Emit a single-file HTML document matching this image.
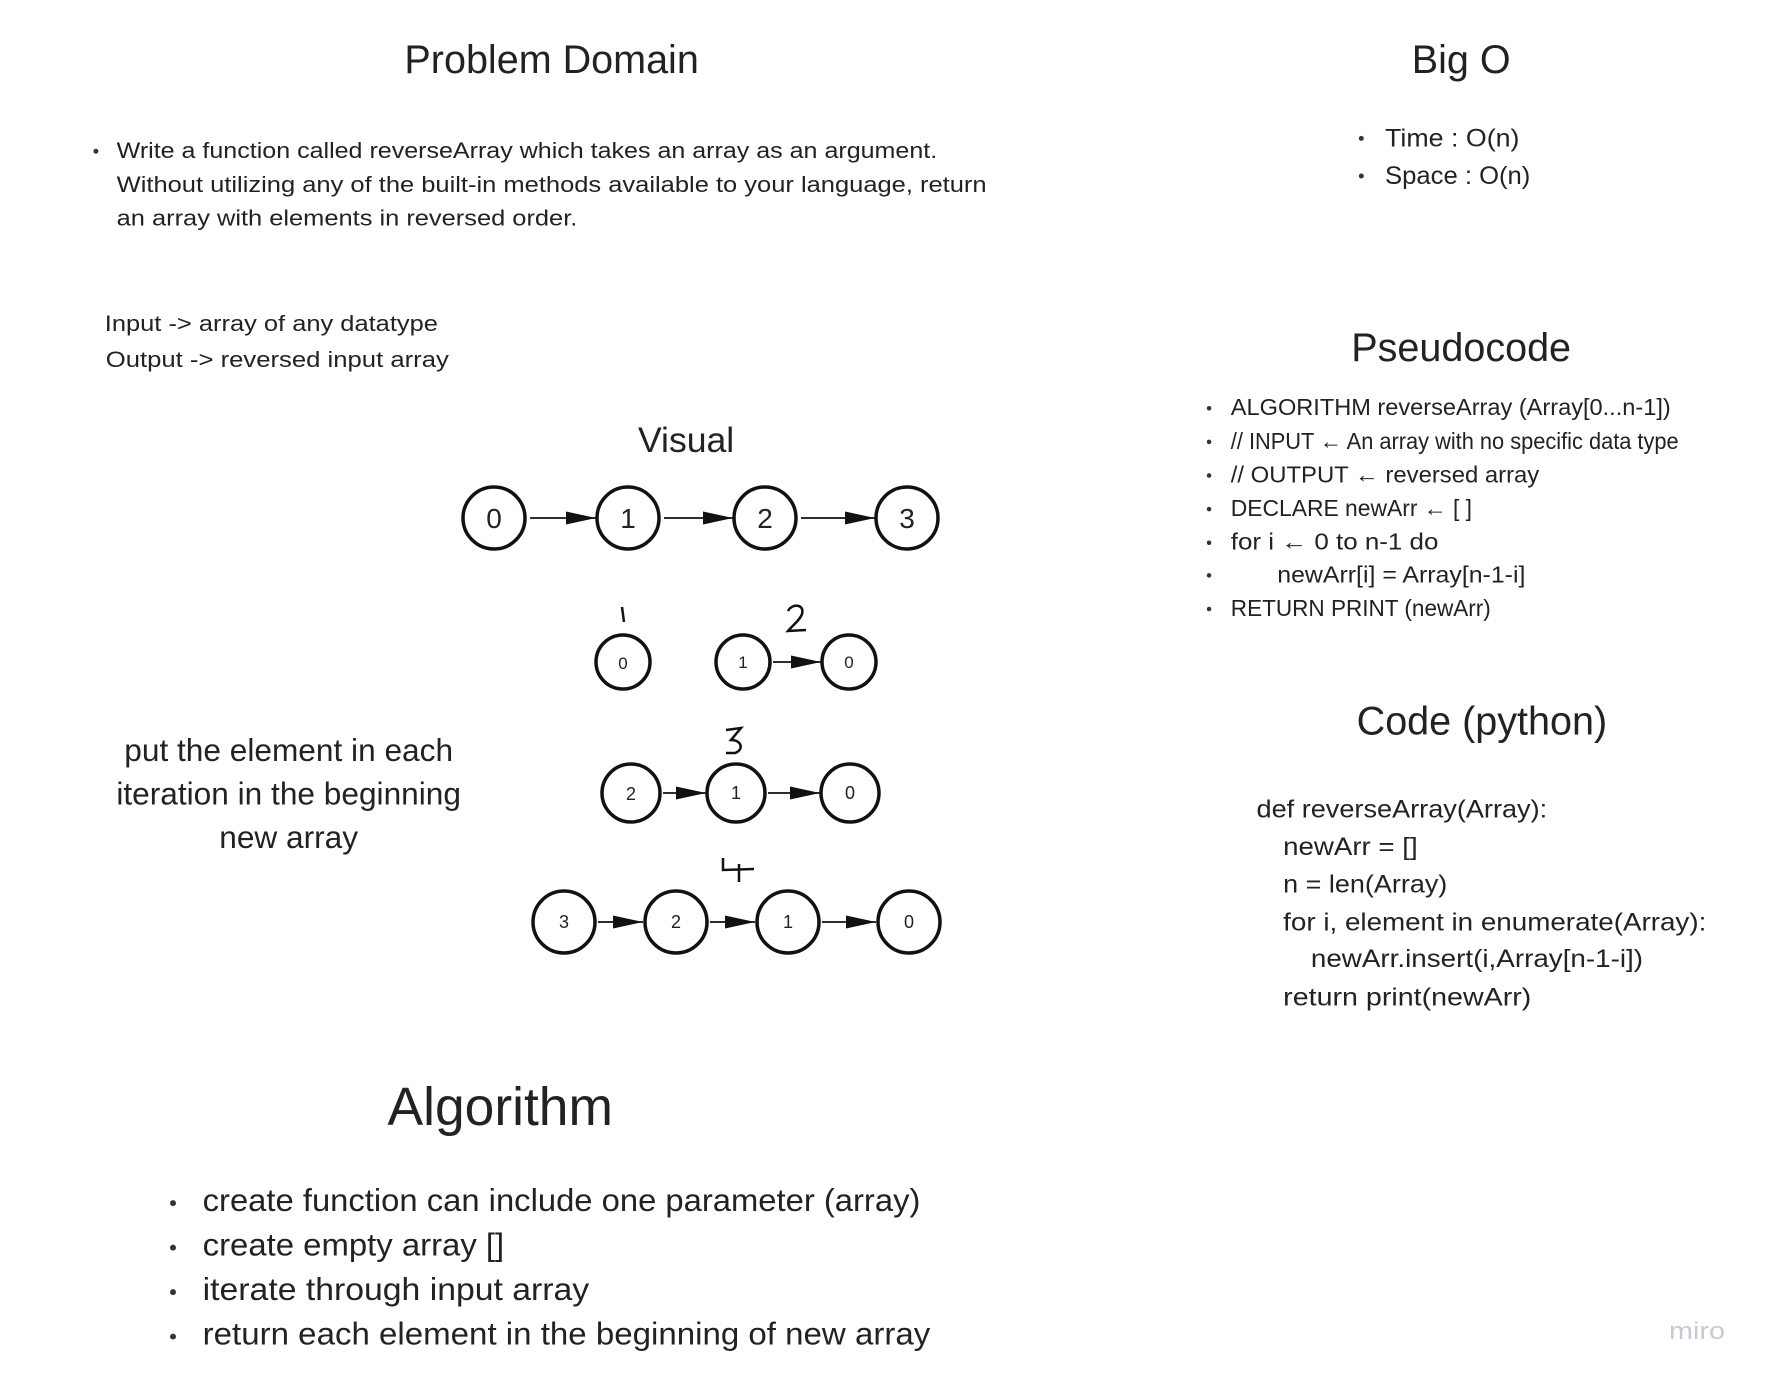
<!DOCTYPE html>
<html><head><meta charset="utf-8"><style>
html,body{margin:0;padding:0;background:#fff;}
svg{display:block;}
text{font-family:"Liberation Sans",sans-serif;fill:#222;}
</style></head><body>
<svg width="1766" height="1381" viewBox="0 0 1766 1381" xmlns="http://www.w3.org/2000/svg">
<defs>
<marker id="ah2" viewBox="0 0 10 10" refX="10" refY="5" markerWidth="30" markerHeight="13" markerUnits="userSpaceOnUse" orient="auto" preserveAspectRatio="none">
<path d="M0,0 L10,5 L0,10 Z" fill="#111"/>
</marker>
</defs>
<rect width="1766" height="1381" fill="#fff"/>

<g transform="scale(0.9886)">
<!-- Problem Domain -->
<text x="558" y="74" font-size="40" text-anchor="middle">Problem Domain</text>
<circle cx="97" cy="153" r="2.5" fill="#333"/>
<text x="118" y="160" font-size="22" textLength="830" lengthAdjust="spacingAndGlyphs">Write a function called reverseArray which takes an array as an argument.</text>
<text x="118" y="194" font-size="22" textLength="880" lengthAdjust="spacingAndGlyphs">Without utilizing any of the built-in methods available to your language, return</text>
<text x="118" y="228" font-size="22" textLength="466" lengthAdjust="spacingAndGlyphs">an array with elements in reversed order.</text>

<text x="106" y="335" font-size="22" textLength="337" lengthAdjust="spacingAndGlyphs">Input -&gt; array of any datatype</text>
<text x="107" y="371" font-size="22" textLength="347" lengthAdjust="spacingAndGlyphs">Output -&gt; reversed input array</text>

<text x="694" y="457" font-size="36" text-anchor="middle">Visual</text>

<text x="292" y="770" font-size="32" text-anchor="middle">put the element in each</text>
<text x="292" y="814" font-size="32" text-anchor="middle">iteration in the beginning</text>
<text x="292" y="858" font-size="32" text-anchor="middle">new array</text>

<!-- Algorithm -->
<text x="506" y="1138" font-size="54" text-anchor="middle">Algorithm</text>
<g fill="#333"><circle cx="175" cy="1217" r="3"/><circle cx="175" cy="1262" r="3"/><circle cx="175" cy="1307" r="3"/><circle cx="175" cy="1352" r="3"/></g>
<text x="205" y="1225" font-size="32" textLength="726" lengthAdjust="spacingAndGlyphs">create function can include one parameter (array)</text>
<text x="205" y="1270" font-size="32" textLength="305" lengthAdjust="spacingAndGlyphs">create empty array []</text>
<text x="205" y="1315" font-size="32" textLength="391" lengthAdjust="spacingAndGlyphs">iterate through input array</text>
<text x="205" y="1360" font-size="32" textLength="736" lengthAdjust="spacingAndGlyphs">return each element in the beginning of new array</text>

<!-- Big O -->
<text x="1478" y="74" font-size="40" text-anchor="middle">Big O</text>
<g fill="#333"><circle cx="1377" cy="140" r="2.5"/><circle cx="1377" cy="178" r="2.5"/></g>
<text x="1401" y="148" font-size="25" textLength="136" lengthAdjust="spacingAndGlyphs">Time : O(n)</text>
<text x="1401" y="186" font-size="25" textLength="147" lengthAdjust="spacingAndGlyphs">Space : O(n)</text>

<!-- Pseudocode -->
<text x="1478" y="365" font-size="40" text-anchor="middle">Pseudocode</text>
<g fill="#333">
<circle cx="1223" cy="413" r="2.3"/><circle cx="1223" cy="447" r="2.3"/><circle cx="1223" cy="481" r="2.3"/><circle cx="1223" cy="515" r="2.3"/><circle cx="1223" cy="549" r="2.3"/><circle cx="1223" cy="582" r="2.3"/><circle cx="1223" cy="616" r="2.3"/>
</g>
<g font-size="23">
<text x="1245" y="420" textLength="445" lengthAdjust="spacingAndGlyphs">ALGORITHM reverseArray (Array[0...n-1])</text>
<text x="1245" y="454" textLength="453" lengthAdjust="spacingAndGlyphs">// INPUT ← An array with no specific data type</text>
<text x="1245" y="488" textLength="312" lengthAdjust="spacingAndGlyphs">// OUTPUT ← reversed array</text>
<text x="1245" y="522" textLength="244" lengthAdjust="spacingAndGlyphs">DECLARE newArr ← [ ]</text>
<text x="1245" y="556" textLength="210" lengthAdjust="spacingAndGlyphs">for i ←  0 to  n-1 do</text>
<text x="1292" y="589" textLength="251" lengthAdjust="spacingAndGlyphs">newArr[i] = Array[n-1-i]</text>
<text x="1245" y="623" textLength="263" lengthAdjust="spacingAndGlyphs">RETURN PRINT (newArr)</text>
</g>

<!-- Code -->
<text x="1499" y="743" font-size="40" text-anchor="middle">Code (python)</text>
<g font-size="25">
<text x="1271" y="827" textLength="294" lengthAdjust="spacingAndGlyphs">def reverseArray(Array):</text>
<text x="1298" y="865" textLength="136" lengthAdjust="spacingAndGlyphs">newArr = []</text>
<text x="1298" y="903" textLength="166" lengthAdjust="spacingAndGlyphs">n = len(Array)</text>
<text x="1298" y="941" textLength="428" lengthAdjust="spacingAndGlyphs">for i, element in enumerate(Array):</text>
<text x="1326" y="978" textLength="336" lengthAdjust="spacingAndGlyphs">newArr.insert(i,Array[n-1-i])</text>
<text x="1298" y="1017" textLength="251" lengthAdjust="spacingAndGlyphs">return print(newArr)</text>
</g>
</g>

<!-- Row 1 -->
<g fill="none" stroke="#111" stroke-width="3.5">
<circle cx="494" cy="518" r="31"/><circle cx="628" cy="518" r="31"/><circle cx="765" cy="518" r="31"/><circle cx="907" cy="518" r="31"/>
</g>
<g stroke="#111" stroke-width="1.8">
<line x1="530" y1="518" x2="596" y2="518" marker-end="url(#ah2)"/>
<line x1="664" y1="518" x2="733" y2="518" marker-end="url(#ah2)"/>
<line x1="801" y1="518" x2="875" y2="518" marker-end="url(#ah2)"/>
</g>
<g font-size="28" text-anchor="middle">
<text x="494" y="528">0</text><text x="628" y="528">1</text><text x="765" y="528">2</text><text x="907" y="528">3</text>
</g>

<!-- Row 2 -->
<g fill="none" stroke="#111" stroke-width="3.5">
<circle cx="623" cy="662" r="27"/><circle cx="743" cy="662" r="27"/><circle cx="849" cy="662" r="27"/>
</g>
<line x1="773" y1="662" x2="821" y2="662" stroke="#111" stroke-width="1.8" marker-end="url(#ah2)"/>
<g font-size="17" text-anchor="middle">
<text x="623" y="669">0</text><text x="743" y="668">1</text><text x="849" y="668">0</text>
</g>
<path d="M622,607 L624,622" stroke="#111" stroke-width="2.5" fill="none"/>
<path d="M788,611 C792,603 805,604 802,614 C800,620 793,625 788,631 L806,630" stroke="#111" stroke-width="2.5" fill="none"/>

<!-- Row 3 -->
<g fill="none" stroke="#111" stroke-width="3.5">
<circle cx="631" cy="793" r="29"/><circle cx="736" cy="793" r="29"/><circle cx="850" cy="793" r="29"/>
</g>
<g stroke="#111" stroke-width="1.8">
<line x1="663" y1="793" x2="706" y2="793" marker-end="url(#ah2)"/>
<line x1="768" y1="793" x2="820" y2="793" marker-end="url(#ah2)"/>
</g>
<g font-size="18" text-anchor="middle">
<text x="631" y="800">2</text><text x="736" y="799">1</text><text x="850" y="799">0</text>
</g>
<path d="M726,730 L741,728 L731,740 C742,740 744,750 735,753 L726,753" stroke="#111" stroke-width="2.5" fill="none"/>

<!-- Row 4 -->
<g fill="none" stroke="#111" stroke-width="3.5">
<circle cx="564" cy="922" r="31"/><circle cx="676" cy="922" r="31"/><circle cx="788" cy="922" r="31"/><circle cx="909" cy="922" r="31"/>
</g>
<g stroke="#111" stroke-width="1.8">
<line x1="598" y1="922" x2="643" y2="922" marker-end="url(#ah2)"/>
<line x1="710" y1="922" x2="755" y2="922" marker-end="url(#ah2)"/>
<line x1="822" y1="922" x2="876" y2="922" marker-end="url(#ah2)"/>
</g>
<g font-size="18" text-anchor="middle">
<text x="564" y="928">3</text><text x="676" y="928">2</text><text x="788" y="928">1</text><text x="909" y="928">0</text>
</g>
<path d="M723,858 L723,870 L754,869 M739,864 L739,882" stroke="#111" stroke-width="2.5" fill="none"/>

<text x="1669" y="1339" font-size="24" style="fill:#c9c9d3" textLength="56" lengthAdjust="spacingAndGlyphs">miro</text>
</svg>
</body></html>
